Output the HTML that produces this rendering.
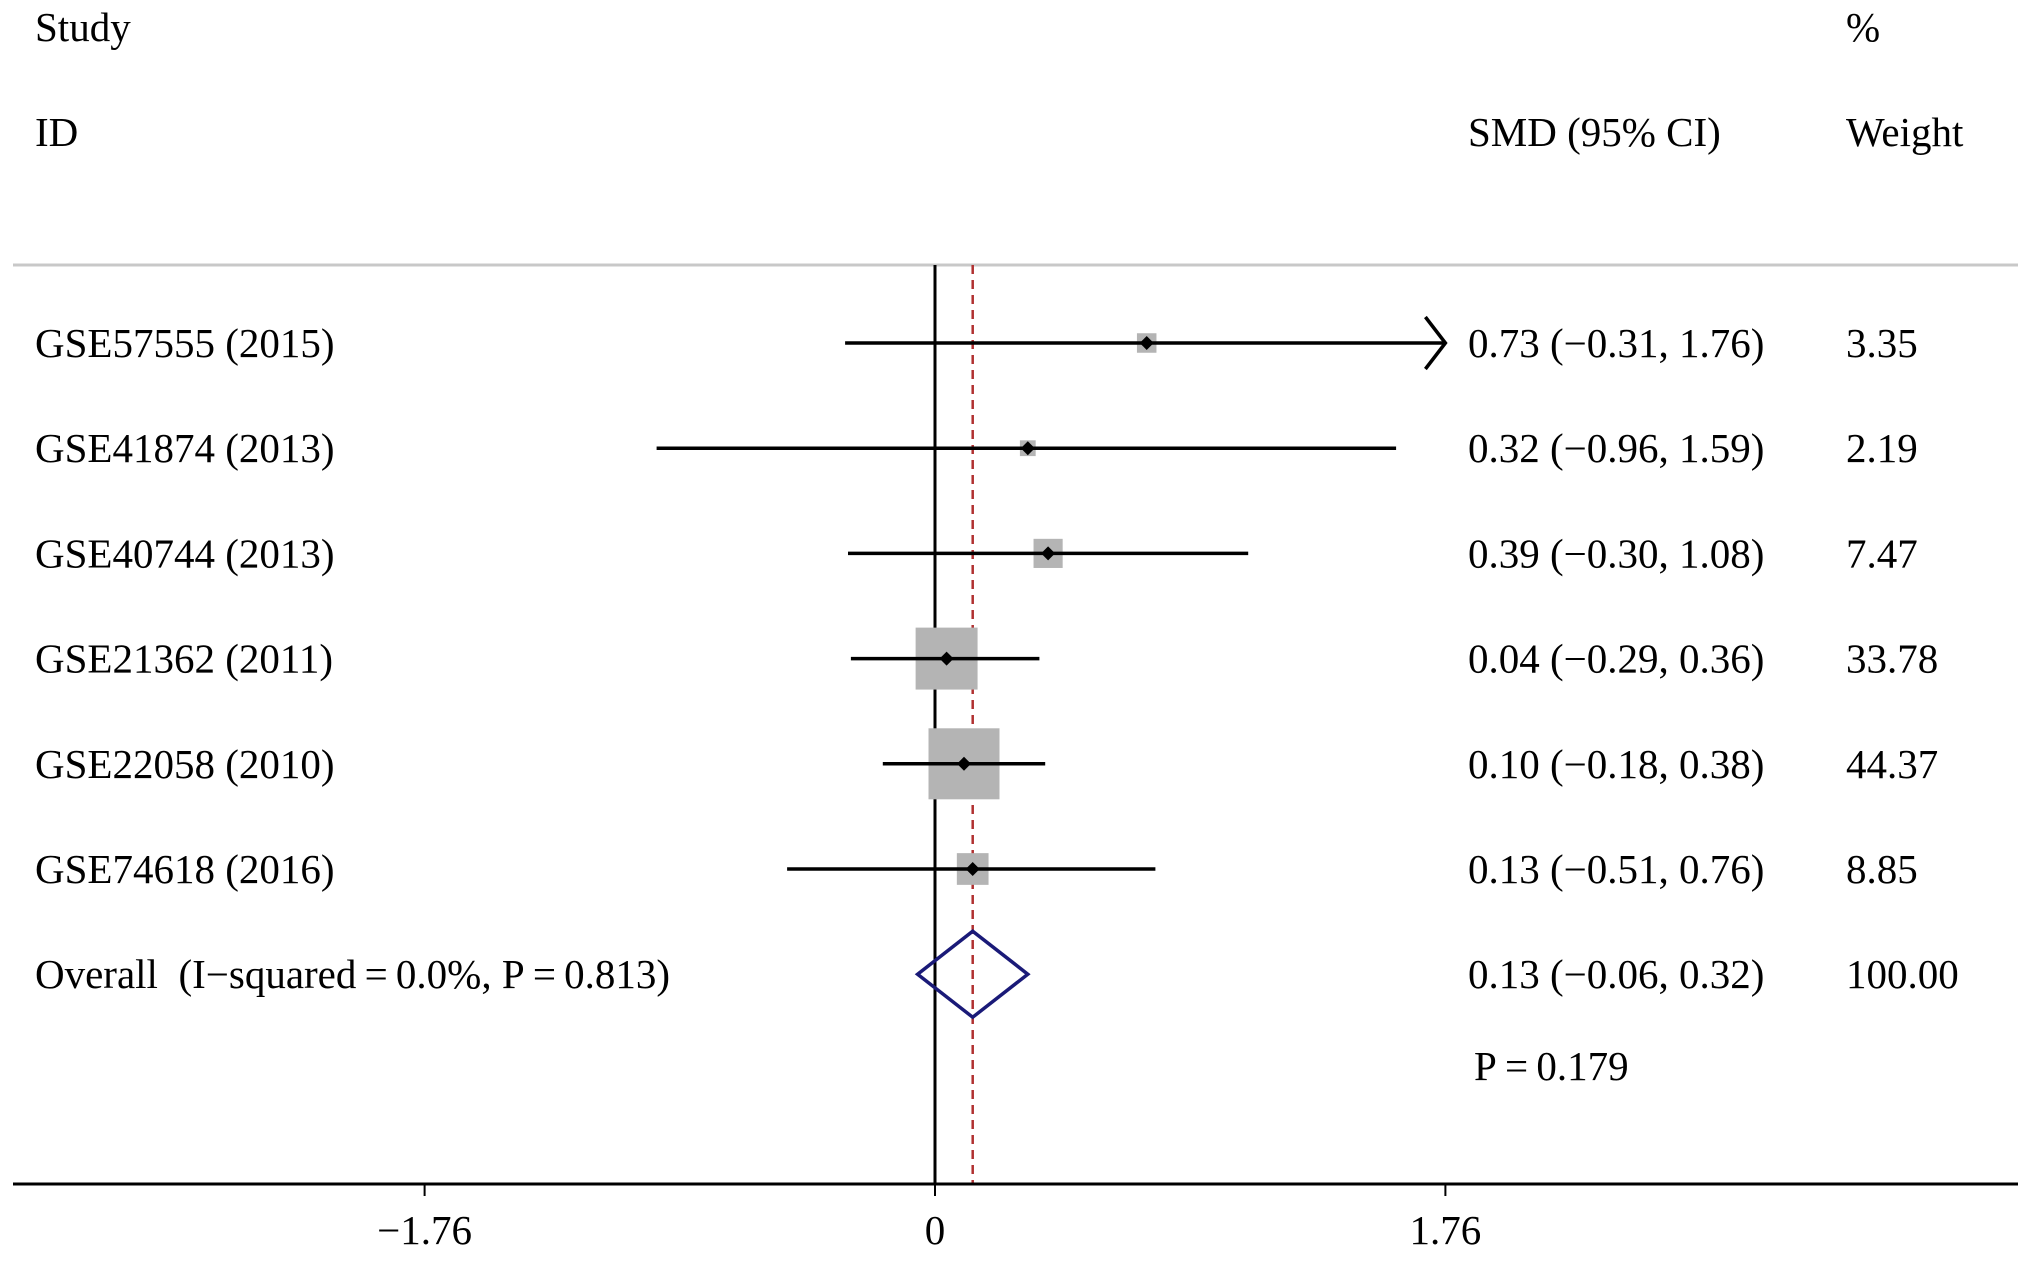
<!DOCTYPE html>
<html><head><meta charset="utf-8"><style>
html,body{margin:0;padding:0;background:#fff}
svg text{font-family:"Liberation Serif",serif;font-size:41px;fill:#000;white-space:pre}
</style></head><body>
<svg id="plot" width="2031" height="1259" xmlns="http://www.w3.org/2000/svg">
<g id="g"></g>
</svg>
<script>
const studies=["GSE57555 (2015)","GSE41874 (2013)","GSE40744 (2013)","GSE21362 (2011)","GSE22058 (2010)","GSE74618 (2016)"];
const smd=[0.73,0.32,0.39,0.04,0.10,0.13];
const lower=[-0.31,-0.96,-0.30,-0.29,-0.18,-0.51];
const upper=[1.76,1.59,1.08,0.36,0.38,0.76];
const weights=["3.35","2.19","7.47","33.78","44.37","8.85"];
const ciText=["0.73 (\u22120.31, 1.76)","0.32 (\u22120.96, 1.59)","0.39 (\u22120.30, 1.08)","0.04 (\u22120.29, 0.36)","0.10 (\u22120.18, 0.38)","0.13 (\u22120.51, 0.76)"];
const overall=[0.13,-0.06,0.32];
const ticks=[-1.76,0,1.76];
const tickLabels=["\u22121.76","0","1.76"];

const NS="http://www.w3.org/2000/svg";
const g=document.getElementById('g');
const X=v=>935+v*290;
const rowY=i=>343+i*105.2;
function el(tag,attrs,name,txt){const e=document.createElementNS(NS,tag);for(const k in attrs)e.setAttribute(k,attrs[k]);


if(txt!==undefined)e.textContent=txt;g.appendChild(e);return e;}
el('text',{x:35,y:41},'study-header','Study');
el('text',{x:35,y:146},'id-header','ID');
el('text',{x:1468,y:146},'smd-header','SMD (95% CI)');
el('text',{x:1846,y:41},'percent-header','%');
el('text',{x:1846,y:146},'weight-header','Weight');
el('line',{x1:13,y1:265,x2:2018,y2:265,stroke:'#c8c8c8','stroke-width':3},'header-rule');
el('line',{x1:X(0),y1:265,x2:X(0),y2:1184,stroke:'#000','stroke-width':3},'null-line');
el('line',{x1:X(overall[0]),y1:265,x2:X(overall[0]),y2:1184,stroke:'#b03030','stroke-width':2.5,'stroke-dasharray':'9,6'},'overall-effect-line');
studies.forEach((s,i)=>{
 const y=rowY(i);
 el('text',{x:35,y:y+14},'study-label',s);
 const side=10.66*Math.sqrt(parseFloat(weights[i]));
 el('rect',{x:X(smd[i])-side/2,y:y-side/2,width:side,height:side,fill:'#b4b4b4'},'weight-box');
 const hi=Math.min(upper[i],1.76);
 el('line',{x1:X(lower[i]),y1:y,x2:X(hi),y2:y,stroke:'#000','stroke-width':3.5},'ci-line');
 if(upper[i]>=1.76){el('polyline',{points:`${X(1.76)-20},${y-26} ${X(1.76)},${y} ${X(1.76)-20},${y+26}`,fill:'none',stroke:'#000','stroke-width':3.5},'ci-arrow');}
 const d=7;
 el('polygon',{points:`${X(smd[i])-d},${y} ${X(smd[i])},${y-d} ${X(smd[i])+d},${y} ${X(smd[i])},${y+d}`,fill:'#000'},'point-estimate');
 el('text',{x:1468,y:y+14},'ci-text',ciText[i]);
 el('text',{x:1846,y:y+14},'weight-text',weights[i]);
});
const oy=rowY(6);
el('text',{x:35,y:oy+14},'overall-label','Overall  (I\u2212squared\u2009=\u20090.0%, P\u2009=\u20090.813)');
el('polygon',{points:`${X(overall[1])},${oy} ${X(overall[0])},${oy-43} ${X(overall[2])},${oy} ${X(overall[0])},${oy+43}`,fill:'none',stroke:'#1a1a78','stroke-width':3.5},'overall-diamond');
el('text',{x:1468,y:oy+14},'overall-ci-text','0.13 (\u22120.06, 0.32)');
el('text',{x:1846,y:oy+14},'overall-weight','100.00');
el('text',{x:1474,y:1080},'overall-p-value','P\u2009=\u20090.179');
el('line',{x1:13,y1:1184,x2:2018,y2:1184,stroke:'#000','stroke-width':3},'x-axis');
ticks.forEach((t,i)=>{
 el('line',{x1:X(t),y1:1184,x2:X(t),y2:1196,stroke:'#000','stroke-width':2},'x-tick');
 el('text',{x:X(t),y:1244,'text-anchor':'middle'},'x-tick-label',tickLabels[i]);
});
</script>
</body></html>
